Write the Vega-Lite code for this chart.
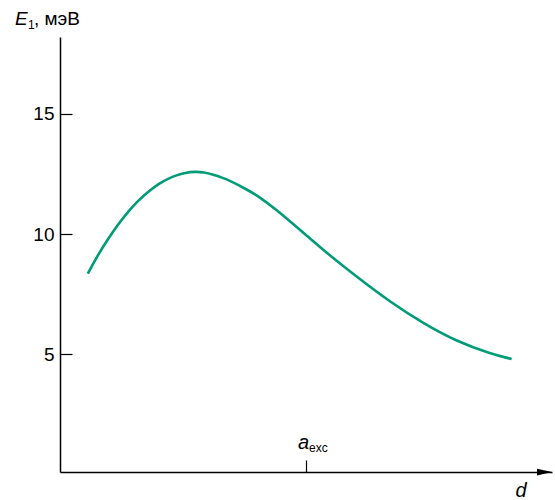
{
  "$schema": "https://vega.github.io/schema/vega-lite/v6.json",
  "width": 492,
  "height": 435,
  "autosize": {"type": "none"},
  "padding": {"left": 60, "top": 37, "right": 3, "bottom": 28},
  "background": "white",
  "config": {
    "view": {"stroke": null},
    "font": "Liberation Sans",
    "axis": {"grid": false, "domainColor": "black", "tickColor": "black", "labelColor": "black", "labelFont": "Liberation Sans"},
    "text": {"font": "Liberation Sans", "fontWeight": "normal", "fill": "black"}
  },
  "layer": [
    {
      "data": {
        "values": [
          {"d": 0.113, "E": 8.35},
          {"d": 0.154, "E": 9.13},
          {"d": 0.195, "E": 9.8},
          {"d": 0.236, "E": 10.4},
          {"d": 0.276, "E": 10.93},
          {"d": 0.317, "E": 11.38},
          {"d": 0.358, "E": 11.76},
          {"d": 0.407, "E": 12.13},
          {"d": 0.439, "E": 12.3},
          {"d": 0.474, "E": 12.45},
          {"d": 0.508, "E": 12.55},
          {"d": 0.549, "E": 12.6},
          {"d": 0.585, "E": 12.57},
          {"d": 0.623, "E": 12.47},
          {"d": 0.659, "E": 12.35},
          {"d": 0.691, "E": 12.22},
          {"d": 0.759, "E": 11.86},
          {"d": 0.813, "E": 11.53},
          {"d": 0.881, "E": 11.0},
          {"d": 0.948, "E": 10.42},
          {"d": 1.07, "E": 9.33},
          {"d": 1.206, "E": 8.22},
          {"d": 1.341, "E": 7.18},
          {"d": 1.477, "E": 6.28},
          {"d": 1.613, "E": 5.53},
          {"d": 1.748, "E": 5.03},
          {"d": 1.836, "E": 4.8}
        ]
      },
      "mark": {"type": "line", "color": "#009b77", "strokeWidth": 2.6, "interpolate": "basis"},
      "encoding": {
        "x": {
          "field": "d", "type": "quantitative",
          "scale": {"domain": [0, 2], "nice": false, "zero": false},
          "axis": {"title": null, "values": [1], "labels": false, "tickSize": -12, "domainWidth": 1.5, "tickWidth": 1.2}
        },
        "y": {
          "field": "E", "type": "quantitative",
          "scale": {"domain": [0.1, 18.2], "nice": false, "zero": false},
          "axis": {"title": null, "values": [5, 10, 15], "tickSize": -12, "labelPadding": 18, "labelFontSize": 19, "domainWidth": 1.5, "tickWidth": 1.2}
        }
      }
    },
    {
      "data": {"values": [{"label": "d"}]},
      "mark": {"type": "point", "shape": "M-2,-0.45L0,0L-2,0.45Z", "size": 225, "filled": true, "color": "black", "opacity": 1, "strokeWidth": 0},
      "encoding": {"x": {"datum": 2.0, "type": "quantitative"}, "y": {"datum": 0.1, "type": "quantitative"}}
    },
    {
      "data": {"values": [{"label": "d"}]},
      "mark": {"type": "text", "fontStyle": "italic", "fontSize": 20, "align": "center", "baseline": "alphabetic", "dx": -31, "dy": 25},
      "encoding": {"x": {"datum": 2.0, "type": "quantitative"}, "y": {"datum": 0.1, "type": "quantitative"}, "text": {"field": "label"}}
    },
    {
      "data": {"values": [{"label": "a"}]},
      "mark": {"type": "text", "fontStyle": "italic", "fontSize": 20, "align": "right", "baseline": "alphabetic", "dx": 3, "dy": -23},
      "encoding": {"x": {"datum": 1, "type": "quantitative"}, "y": {"datum": 0.1, "type": "quantitative"}, "text": {"field": "label"}}
    },
    {
      "data": {"values": [{"label": "exc"}]},
      "mark": {"type": "text", "fontSize": 12, "align": "left", "baseline": "alphabetic", "dx": 3, "dy": -20},
      "encoding": {"x": {"datum": 1, "type": "quantitative"}, "y": {"datum": 0.1, "type": "quantitative"}, "text": {"field": "label"}}
    },
    {
      "data": {"values": [{"label": "E"}]},
      "mark": {"type": "text", "fontStyle": "italic", "fontSize": 19, "align": "left", "baseline": "alphabetic", "dx": -45, "dy": -12},
      "encoding": {"x": {"datum": 0, "type": "quantitative"}, "y": {"datum": 18.2, "type": "quantitative"}, "text": {"field": "label"}}
    },
    {
      "data": {"values": [{"label": "1"}]},
      "mark": {"type": "text", "fontSize": 12, "align": "left", "baseline": "alphabetic", "dx": -32, "dy": -8},
      "encoding": {"x": {"datum": 0, "type": "quantitative"}, "y": {"datum": 18.2, "type": "quantitative"}, "text": {"field": "label"}}
    },
    {
      "data": {"values": [{"label": ", мэВ"}]},
      "mark": {"type": "text", "fontSize": 19, "align": "left", "baseline": "alphabetic", "dx": -26, "dy": -12},
      "encoding": {"x": {"datum": 0, "type": "quantitative"}, "y": {"datum": 18.2, "type": "quantitative"}, "text": {"field": "label"}}
    }
  ]
}
